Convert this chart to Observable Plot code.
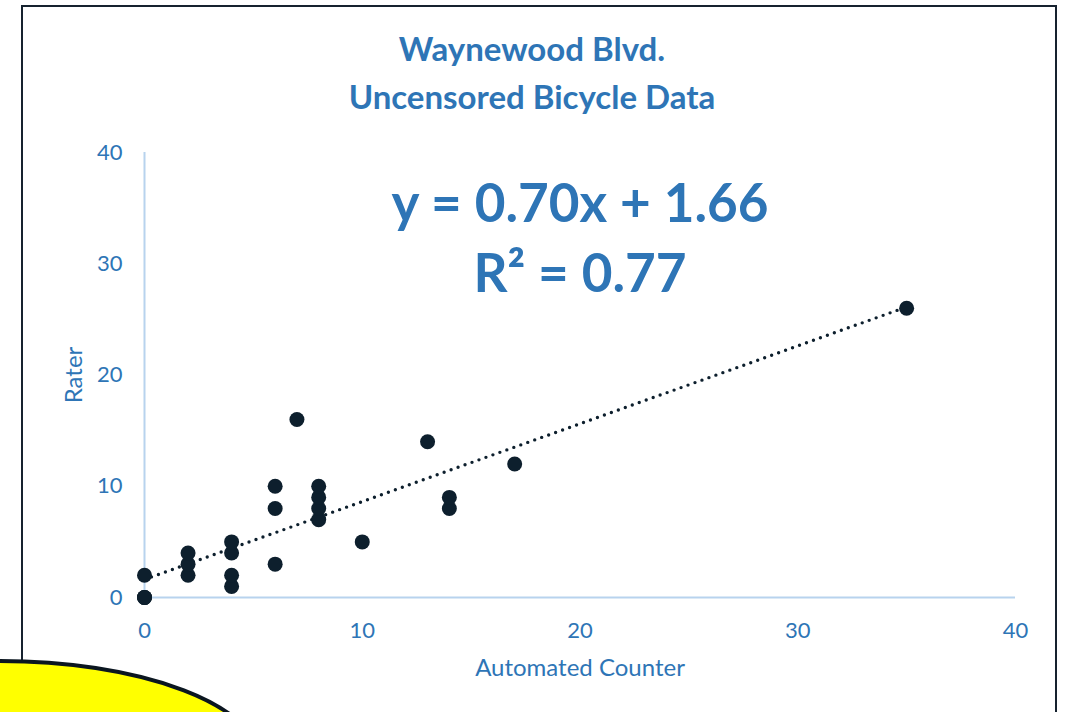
<!DOCTYPE html>
<html>
<head>
<meta charset="utf-8">
<script src="https://cdn.jsdelivr.net/npm/d3@7"></script>
<script src="https://cdn.jsdelivr.net/npm/@observablehq/plot@0.6"></script>
<style>
  html, body { margin: 0; padding: 0; background: #fff; }
  #wrap { position: relative; width: 1066px; height: 712px; overflow: hidden; font-family: Lato, "Open Sans", sans-serif; }
  #chart { position: absolute; left: 0; top: 0; }
  #border { position: absolute; left: 21px; top: 5px; width: 1032px; height: 760px; border: 2px solid #16222f; box-sizing: content-box; }
  #title { position: absolute; top: 24px; text-align: center; margin-left: 96px; width: 872px;
           color: #2e75b6; font-weight: 700; font-size: 33px; line-height: 48px; }
  #overlay { position: absolute; left: 0; top: 0; }
</style>
</head>
<body>
<div id="wrap">
  <div id="border"></div>
  <div id="chart"></div>
  <div id="title">Waynewood Blvd.<br>Uncensored Bicycle Data</div>
</div>
<script>
// Data
const automatedCounter = [0, 0, 0, 0, 2, 2, 2, 4, 4, 4, 4, 6, 6, 6, 7, 8, 8, 8, 8, 10, 13, 14, 14, 17, 35];
const rater            = [0, 0, 0, 2, 2, 3, 4, 1, 2, 4, 5, 3, 8, 10, 16, 7, 8, 9, 10, 5, 14, 8, 9, 12, 26];
const tickValues = [0, 10, 20, 30, 40];
const equationLines = ["y = 0.70x + 1.66", "R² = 0.77"];

const points = automatedCounter.map((x, i) => ({x, y: rater[i]}));

const blue = "#2e75b6";
const axisBlue = "#b8d3ee";
const navy = "#0d1f2d";

const chart = Plot.plot({
  width: 1066,
  height: 712,
  marginLeft: 144,
  marginRight: 51,
  marginTop: 152,
  marginBottom: 115,
  style: {fontFamily: "Lato, 'Open Sans', sans-serif", background: "transparent"},
  x: {domain: [0, 40], ticks: tickValues},
  y: {domain: [0, 40], ticks: tickValues},
  marks: [
    Plot.ruleX([0], {stroke: axisBlue, strokeWidth: 2}),
    Plot.ruleY([0], {stroke: axisBlue, strokeWidth: 2}),
    Plot.axisX({ticks: tickValues, tickSize: 0, tickPadding: 25, fontSize: 22, color: blue,
      label: "Automated Counter", labelAnchor: "center", labelArrow: "none", labelOffset: 78}),
    Plot.axisY({ticks: tickValues, tickSize: 0, tickPadding: 22, fontSize: 22, color: blue,
      label: "Rater", labelAnchor: "center", labelArrow: "none", labelOffset: 80}),
    Plot.linearRegressionY(points, {x: "x", y: "y", ci: 0, stroke: navy, strokeWidth: 3.4,
      strokeDasharray: "0,7.4", strokeLinecap: "round"}),
    Plot.dot(points, {x: "x", y: "y", r: 7.5, fill: navy, stroke: "none"}),
    Plot.text([equationLines[0]], {frameAnchor: "top", dy: 69, text: d => d, fill: blue,
      fontSize: 53, fontWeight: 700, textAnchor: "middle", lineAnchor: "bottom"}),
    Plot.text([equationLines[1]], {frameAnchor: "top", dy: 139, text: d => d, fill: blue,
      fontSize: 53, fontWeight: 700, textAnchor: "middle", lineAnchor: "bottom"})
  ]
});
document.getElementById("chart").appendChild(chart);

// axis label fonts
chart.querySelectorAll("[aria-label='x-axis label'] text, [aria-label='y-axis label'] text, [aria-label='x-axis label'], [aria-label='y-axis label']").forEach(t => {
  t.setAttribute("font-size", 24);
  t.style.fontSize = "24px";
  t.setAttribute("fill", blue);
});

// decorative yellow callout overlay in bottom-left corner
const svg = d3.select("#wrap").append("svg")
  .attr("id", "overlay").attr("width", 1066).attr("height", 712);
svg.append("ellipse")
  .attr("cx", 0).attr("cy", 761).attr("rx", 260).attr("ry", 100)
  .attr("fill", "#ffff00").attr("stroke", "#0b1620").attr("stroke-width", 4);
</script>
</body>
</html>
